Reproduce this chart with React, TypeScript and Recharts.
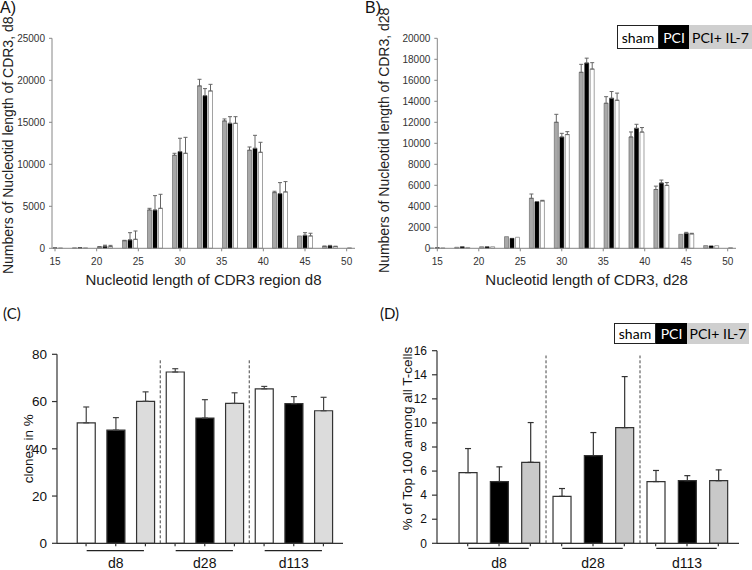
import React from 'react';
import { BarChart, Bar, XAxis, YAxis, ErrorBar, Cell, ReferenceLine, Legend } from 'recharts';

// ---------- data: panels A / B (CDR3 length distribution) ----------
const lengths = [15, 18, 21, 24, 27, 30, 33, 36, 39, 42, 45, 48, 51];

const d8Il7 = [0, 60, 150, 900, 4560, 11070, 19330, 15160, 11670, 6630, 1470, 220, 50];
const d8Il7Err = [0, 0, 60, 50, 200, 240, 790, 240, 390, 160, 0, 50, 0];
const d8Pci = [60, 80, 250, 1000, 4560, 11510, 18170, 14880, 11900, 6510, 1550, 300, 0];
const d8PciErr = [0, 0, 120, 860, 1710, 1590, 840, 790, 1550, 1310, 310, 50, 0];
const d8Sham = [50, 60, 200, 1070, 4760, 11310, 18730, 14880, 11430, 6710, 1470, 200, 0];
const d8ShamErr = [0, 0, 150, 990, 1670, 1900, 790, 790, 1190, 1230, 320, 50, 0];

const d28Il7 = [30, 100, 150, 1110, 4760, 12000, 16760, 13810, 10600, 5600, 1330, 260, 50];
const d28Il7Err = [0, 0, 0, 0, 410, 760, 760, 630, 480, 320, 0, 0, 0];
const d28Pci = [60, 150, 150, 950, 4440, 10600, 17650, 14290, 11430, 6220, 1430, 230, 0];
const d28PciErr = [0, 0, 0, 0, 0, 350, 460, 640, 380, 280, 90, 0, 0];
const d28Sham = [40, 80, 150, 1050, 4510, 10830, 17070, 14100, 11070, 5990, 1370, 250, 0];
const d28ShamErr = [0, 0, 0, 0, 60, 280, 610, 680, 430, 270, 60, 0, 0];

const lengthTicks = [15, 20, 25, 30, 35, 40, 45, 50];
const d8YTicks = [0, 5000, 10000, 15000, 20000, 25000];
const d28YTicks = [0, 2000, 4000, 6000, 8000, 10000, 12000, 14000, 16000, 18000, 20000];

// ---------- data: panels C / D ----------
const groups = ['d8', 'd28', 'd113'];
const treatments = ['sham', 'PCI', 'PCI+ IL-7'];
const clonesMean = [51.0, 47.9, 60.1, 72.5, 53.0, 59.2, 65.4, 59.1, 56.1];
const clonesErr = [6.7, 5.3, 4.0, 1.4, 7.8, 4.5, 1.0, 3.0, 5.7];
const top100Mean = [5.87, 5.13, 6.73, 3.9, 7.28, 9.61, 5.13, 5.2, 5.2];
const top100Err = [2.0, 1.22, 3.3, 0.65, 1.92, 4.24, 0.92, 0.42, 0.9];
const clonesTicks = [0, 20, 40, 60, 80];
const top100Ticks = [0, 2, 4, 6, 8, 10, 12, 14, 16];

// ---------- styling ----------
const FONT = '"Liberation Sans", Arial, sans-serif';
const LEG_FONT = 'Lato, "Open Sans", sans-serif';
const treatFill = ['#ffffff', '#000000', '#dcdcdc'];
const treatFillD = ['#ffffff', '#000000', '#c9c9c9'];
const legendFg = ['#000000', '#ffffff', '#000000'];

const oneSided = (e: number) => (e > 0 ? [0, e] : null);

const rowsLen = (il7: number[], il7E: number[], pci: number[], pciE: number[], sham: number[], shamE: number[]) =>
  lengths.map((len, i) => ({
    len,
    il7: il7[i],
    il7Err: oneSided(il7E[i]),
    pci: pci[i],
    pciErr: oneSided(pciE[i]),
    sham: sham[i],
    shamErr: oneSided(shamE[i]),
  }));

const rowsA = rowsLen(d8Il7, d8Il7Err, d8Pci, d8PciErr, d8Sham, d8ShamErr);
const rowsB = rowsLen(d28Il7, d28Il7Err, d28Pci, d28PciErr, d28Sham, d28ShamErr);

const rowsGroup = (mean: number[], err: number[]) =>
  mean.map((m, i) => ({ pos: i, mean: m, err: oneSided(err[i]), t: i % 3 }));

const rowsC = rowsGroup(clonesMean, clonesErr);
const rowsD = rowsGroup(top100Mean, top100Err);

const groupTickFmt = (v: number) => (v % 3 === 1 ? groups[(v - 1) / 3] : '');

function TreatmentLegend({ h, widths }: { h: number; widths: number[] }) {
  return (
    <div style={{ display: 'flex', height: h, fontFamily: LEG_FONT, fontSize: 14 }}>
      {treatments.map((n, i) => (
        <div
          key={n}
          style={{
            width: widths[i],
            height: h,
            background: i === 2 ? '#cfcfcf' : treatFill[i],
            color: legendFg[i],
            border: i === 0 ? '1px solid #222' : 'none',
            boxSizing: 'border-box',
            display: 'flex',
            alignItems: 'center',
            justifyContent: 'center',
            whiteSpace: 'nowrap',
          }}
        >
          {n}
        </div>
      ))}
    </div>
  );
}

function LengthPanel({ rows, yTicks, yMax, xDomain, yTitle, xTitle, marginLeft, yAxisW, marginRight, titleDy, legend }: any) {
  return (
    <BarChart
      width={376}
      height={300}
      data={rows}
      margin={{ top: 38.3, right: marginRight, bottom: 0, left: marginLeft }}
      barGap={1.5}
      style={{ fontFamily: FONT }}
    >
      <XAxis
        type="number"
        dataKey="len"
        domain={xDomain}
        ticks={lengthTicks}
        interval={0}
        height={51.7}
        stroke="#868686"
        tickSize={3}
        tickMargin={7}
        tick={{ fill: '#333', fontSize: 10 }}
        label={{ value: xTitle, position: 'insideBottom', offset: 15, fontSize: 15, fill: '#222' }}
      />
      <YAxis
        type="number"
        domain={[0, yMax]}
        ticks={yTicks}
        interval={0}
        width={yAxisW}
        stroke="#868686"
        tickSize={3}
        tickMargin={4}
        tick={{ fill: '#333', fontSize: 10 }}
        label={{ value: yTitle, angle: -90, position: 'center', dx: -(yAxisW / 2) + 8, dy: titleDy, fontSize: 14, fill: '#222' }}
      />
      <Bar dataKey="il7" barSize={4} fill="#a8a8a8" stroke="#6e6e6e" strokeWidth={0.7} isAnimationActive={false}>
        <ErrorBar dataKey="il7Err" width={2} stroke="#666" strokeWidth={1} />
      </Bar>
      <Bar dataKey="pci" barSize={4} fill="#000" stroke="#000" strokeWidth={0.5} isAnimationActive={false}>
        <ErrorBar dataKey="pciErr" width={2} stroke="#666" strokeWidth={1} />
      </Bar>
      <Bar dataKey="sham" barSize={4} fill="#fff" stroke="#8a8a8a" strokeWidth={0.8} isAnimationActive={false}>
        <ErrorBar dataKey="shamErr" width={2} stroke="#666" strokeWidth={1} />
      </Bar>
      {legend}
    </BarChart>
  );
}

function GroupPanel({ rows, yMax, yTicks, yTitle, top, marginLeft, yAxisW, marginRight, fills, sepTop, underY, yTickFont, titleDx, titleDy, tickMargin, legend, errStroke }: any) {
  return (
    <BarChart
      width={376}
      height={270}
      data={rows}
      margin={{ top, right: marginRight, bottom: 0, left: marginLeft }}
      style={{ fontFamily: FONT }}
    >
      <XAxis
        type="number"
        dataKey="pos"
        domain={[-0.98, 8.66]}
        ticks={[0, 1, 2, 3, 4, 5, 6, 7, 8]}
        interval={0}
        tickFormatter={groupTickFmt}
        height={26.7}
        stroke="#333"
        strokeWidth={1.2}
        tickSize={3}
        tickMargin={tickMargin}
        tick={{ fill: '#111', fontSize: 14 }}
      />
      <YAxis
        type="number"
        domain={[0, yMax]}
        ticks={yTicks}
        interval={0}
        width={yAxisW}
        stroke="#333"
        strokeWidth={1.2}
        tickSize={5}
        tickMargin={5}
        tick={{ fill: '#111', fontSize: yTickFont }}
        label={{ value: yTitle, angle: -90, position: 'center', dx: titleDx, dy: titleDy, fontSize: 13.5, fill: '#111' }}
      />
      {[2.5, 5.5].map((x) => (
        <ReferenceLine
          key={'sep' + x}
          segment={[{ x, y: 0 }, { x, y: sepTop }]}
          stroke="#444"
          strokeDasharray="3 2"
          ifOverflow="visible"
        />
      ))}
      {groups.map((g, gi) => (
        <ReferenceLine
          key={'u' + g}
          segment={[{ x: gi * 3 + 0.02, y: underY }, { x: gi * 3 + 1.95, y: underY }]}
          stroke="#222"
          strokeWidth={1.2}
          ifOverflow="visible"
        />
      ))}
      <Bar dataKey="mean" barSize={18} stroke="#333" strokeWidth={1.2} isAnimationActive={false}>
        {rows.map((r: any) => (
          <Cell key={r.pos} fill={fills[r.t]} />
        ))}
        <ErrorBar dataKey="err" width={3} stroke={errStroke} strokeWidth={1.2} />
      </Bar>
      {legend}
    </BarChart>
  );
}

const panelLabel = (text: string, left: number, top: number, font: string, size: number) => (
  <div style={{ position: 'absolute', left, top, fontFamily: font, fontSize: size, lineHeight: 1, color: '#111' }}>{text}</div>
);

export default function App() {
  return (
    <div style={{ position: 'absolute', left: 0, top: 0, width: 752, height: 570, background: '#fff', overflow: 'hidden' }}>
      <div style={{ position: 'absolute', left: 0, top: 0 }}>
        <LengthPanel
          rows={rowsA}
          yTicks={d8YTicks}
          yMax={25000}
          xDomain={[14.64, 51]}
          yTitle="Numbers of Nucleotid length of CDR3, d8"
          xTitle="Nucleotid length of CDR3 region d8"
          marginLeft={0}
          yAxisW={52}
          marginRight={21}
          titleDy={2}
        />
      </div>
      <div style={{ position: 'absolute', left: 376, top: 0 }}>
        <LengthPanel
          rows={rowsB}
          yTicks={d28YTicks}
          yMax={20000}
          xDomain={[15, 50.9]}
          yTitle="Numbers of Nucleotid length of CDR3, d28"
          xTitle="Nucleotid length of CDR3, d28"
          marginLeft={0}
          yAxisW={61.3}
          marginRight={16}
          titleDy={-3}
          legend={
            <Legend
              layout="horizontal"
              verticalAlign="middle"
              align="center"
              wrapperStyle={{ left: 241, top: 25, width: 135 }}
              content={() => <TreatmentLegend h={24} widths={[42, 30, 63]} />}
            />
          }
        />
      </div>
      <div style={{ position: 'absolute', left: 0, top: 300 }}>
        <GroupPanel
          rows={rowsC}
          yMax={80}
          yTicks={clonesTicks}
          yTitle="clones in %"
          top={54.3}
          marginLeft={0}
          yAxisW={57}
          marginRight={33}
          fills={treatFill}
          sepTop={77.6}
          underY={-3.13}
          yTickFont={13.5}
          titleDx={0}
          titleDy={0}
          tickMargin={11.5}
          errStroke="#444"
        />
      </div>
      <div style={{ position: 'absolute', left: 376, top: 300 }}>
        <GroupPanel
          rows={rowsD}
          yMax={16}
          yTicks={top100Ticks}
          yTitle="% of Top 100 among all T-cells"
          top={50.7}
          marginLeft={0}
          yAxisW={61}
          marginRight={13}
          fills={treatFillD}
          sepTop={15.6}
          underY={-0.415}
          yTickFont={12}
          titleDx={1}
          titleDy={-8.5}
          tickMargin={11.5}
          errStroke="#333"
          legend={
            <Legend
              layout="horizontal"
              verticalAlign="middle"
              align="center"
              wrapperStyle={{ left: 238, top: 23, width: 135 }}
              content={() => <TreatmentLegend h={21} widths={[42, 31, 62]} />}
            />
          }
        />
      </div>
      {panelLabel('A)', 0, 0, FONT, 16)}
      {panelLabel('B)', 365, 0, FONT, 16)}
      {panelLabel('(C)', 3, 306, LEG_FONT, 15)}
      {panelLabel('(D)', 380, 306, LEG_FONT, 15)}
    </div>
  );
}
